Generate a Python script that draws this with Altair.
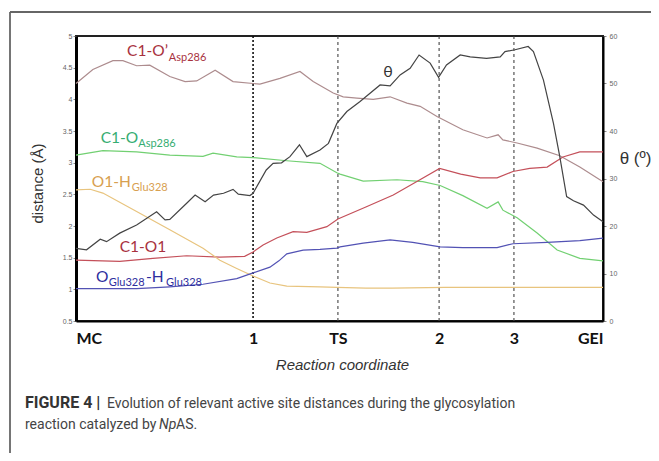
import altair as alt
import pandas as pd

# ---------------- data ----------------
marker_t = [33.6, 49.7, 68.9, 83.1]
tick_t = [0, 33.6, 49.7, 68.9, 83.1, 100]
tick_names = ["MC", "1", "TS", "2", "3", "GEI"]

c1op_t = [0, 3.2, 7.0, 8.9, 11.5, 14.0, 17.8, 20.7, 22.9, 26.4, 29.8, 33.6, 34.9, 38.7, 42.5, 45.0,
          48.8, 50.7, 53.3, 56.4, 59.6, 62.8, 65.3, 68.5, 73.4, 78.0, 80.1, 81.0, 83.7, 87.5, 91.8, 95.6, 100]
c1op_v = [4.25, 4.47, 4.61, 4.61, 4.53, 4.54, 4.36, 4.28, 4.29, 4.46, 4.28, 4.25, 4.24, 4.33, 4.44, 4.28,
          4.10, 4.04, 4.02, 4.00, 4.04, 3.94, 3.89, 3.73, 3.52, 3.39, 3.44, 3.36, 3.31, 3.23, 3.11, 2.93, 2.70]

c1o_t = [0, 5.1, 11.5, 17.8, 24.1, 26.0, 30.5, 33.6, 40.0, 46.3, 49.5, 50.1, 54.5, 60.9, 65.8, 69.1,
         73.4, 78.0, 80.1, 81.0, 83.7, 87.5, 91.3, 95.6, 100]
c1o_v = [3.12, 3.19, 3.17, 3.12, 3.10, 3.15, 3.09, 3.08, 3.03, 2.99, 2.84, 2.82, 2.71, 2.73, 2.70, 2.64,
         2.48, 2.28, 2.38, 2.25, 2.13, 1.89, 1.62, 1.49, 1.45]

c1o1_t = [0, 8.3, 14.6, 21.0, 27.3, 32.0, 33.6, 35.5, 38.1, 41.2, 43.8, 47.6, 49.7, 55.0, 60.2, 64.6,
          69.0, 73.0, 76.7, 79.9, 82.9, 86.1, 89.4, 92.4, 95.6, 100]
c1o1_v = [1.46, 1.44, 1.49, 1.53, 1.51, 1.52, 1.59, 1.70, 1.81, 1.91, 1.90, 1.99, 2.11, 2.30, 2.49, 2.70,
          2.91, 2.82, 2.76, 2.76, 2.86, 2.91, 2.93, 3.09, 3.17, 3.17]

o1h_t = [0, 2.7, 5.1, 11.5, 17.8, 24.1, 27.3, 30.5, 33.6, 36.8, 40.0, 46.3, 49.5, 55, 60, 70, 80, 90, 100]
o1h_v = [2.57, 2.58, 2.52, 2.23, 1.94, 1.65, 1.46, 1.33, 1.21, 1.10, 1.05, 1.04, 1.03, 1.02, 1.02, 1.03,
         1.03, 1.03, 1.03]

oh_t = [0, 11.5, 17.8, 24.1, 30.5, 33.6, 36.8, 38.5, 40.0, 43.1, 46.3, 49.5, 50.1, 54.5, 59.6, 63.9,
        69.1, 73.4, 79.9, 82.9, 89.4, 95.6, 100]
oh_v = [1.01, 1.01, 1.04, 1.08, 1.17, 1.26, 1.35, 1.45, 1.56, 1.62, 1.63, 1.65, 1.67, 1.73, 1.78, 1.74,
        1.67, 1.66, 1.66, 1.72, 1.74, 1.77, 1.81]

theta_t = [0, 2.0, 4.6, 5.8, 8.3, 11.5, 15.3, 16.9, 17.8, 21.0, 22.6, 24.5, 26.1, 28.0, 29.8, 30.8, 33.0,
           33.6, 36.1, 37.4, 39.0, 40.6, 42.4, 43.8, 46.3, 47.9, 49.5, 51.4, 53.9, 57.7, 59.6, 61.5, 63.4,
           65.1, 67.2, 68.8, 70.3, 72.9, 74.8, 77.9, 80.5, 81.4, 83.3, 85.8, 86.8, 88.7, 90.6, 91.8, 93.1,
           94.4, 96.3, 98.2, 100]
theta_v = [15.3, 15.0, 17.2, 16.7, 18.5, 20.2, 23.0, 21.3, 21.4, 24.8, 26.5, 25.1, 26.5, 26.9, 27.7, 26.7, 26.4,
           26.9, 31.8, 33.2, 33.3, 34.6, 37.1, 34.6, 36.0, 37.4, 41.6, 44.1, 46.2, 49.7, 49.5, 51.8, 53.2,
           56.0, 54.3, 51.3, 53.9, 56.0, 55.6, 55.3, 55.6, 56.7, 57.1, 57.8, 56.7, 50.7, 41.6, 34.6, 26.2,
           25.3, 24.4, 22.3, 20.9]

series_names = ["C1-O'Asp286", "C1-OAsp286", "C1-O1", "O1-HGlu328", "OGlu328-HGlu328"]
series_colors = ["#ad8c8e", "#72d072", "#c4505a", "#e8c47e", "#5252b4"]
series_t = [c1op_t, c1o_t, c1o1_t, o1h_t, oh_t]
series_v = [c1op_v, c1o_v, c1o1_v, o1h_v, oh_v]

# in-plot labels (main text + subscripts), in data coordinates
lab_text = ["C1-O\u2019", "Asp286", "C1-O", "Asp286", "O1-H", "Glu328", "C1-O1",
            "O", "Glu328", "-H", "Glu328", "\u03b8"]
lab_t = [9.7, 17.6, 4.7, 11.8, 3.0, 10.6, 8.3, 3.8, 6.2, 13.3, 17.1, 58.3]
lab_v = [4.68, 4.60, 3.31, 3.25, 2.62, 2.55, 1.594, 1.11, 1.055, 1.11, 1.055, 4.36]
lab_size = [15.5, 11, 15.5, 11, 15.5, 11, 15.5, 15.5, 11, 15.5, 11, 16]
lab_color = ["#a8323e", "#a8323e", "#35ad72", "#35ad72", "#d8a050", "#d8a050", "#a8323e",
             "#2e2e9e", "#2e2e9e", "#2e2e9e", "#2e2e9e", "#333333"]

caption_bold = "FIGURE 4 |"
caption_line1 = "Evolution of relevant active site distances during the glycosylation"
caption_line2a = "reaction catalyzed by"
caption_line2b = "Np"
caption_line2c = "AS."

# ---------------- tables ----------------
rows = []
for name, col, ts, vs in zip(series_names, series_colors, series_t, series_v):
    for t, v in zip(ts, vs):
        rows.append({"series": name, "color": col, "t": t, "v": v})
df_lines = pd.DataFrame(rows)
df_theta = pd.DataFrame({"t": theta_t, "theta": theta_v})
df_markers = pd.DataFrame({"t": marker_t, "name": tick_names[1:5]})
df_labels = pd.DataFrame({"t": lab_t, "v": lab_v, "text": lab_text, "size": lab_size, "color": lab_color})
dummy = pd.DataFrame({"a": [0]})

FONT_L = "Lato"
FONT_A = "Liberation Sans"
FONT_C = "Roboto"

label_expr = "[" + ",".join("'%s'" % n for n in tick_names) + "][indexof([" + \
    ",".join(str(v) for v in tick_t) + "], datum.value)]"

x_enc = alt.X(
    "t:Q",
    scale=alt.Scale(domain=[0, 100], nice=False, zero=False),
    axis=alt.Axis(
        values=tick_t, labelExpr=label_expr, labelFont=FONT_L, labelFontWeight="bold",
        labelFontSize=16, labelColor="#111111", labelPadding=9, labelFlush=True,
        ticks=False, grid=False, domainColor="#000000", domainWidth=2,
        title="Reaction coordinate", titleFont=FONT_A, titleFontStyle="italic",
        titleFontWeight="normal", titleFontSize=15, titleColor="#333333",
        titleX=266, titleY=48, titleBaseline="alphabetic", titleAlign="center",
    ),
)

y_axis = alt.Axis(
    values=[0.5, 1, 1.5, 2, 2.5, 3, 3.5, 4, 4.5, 5], labelExpr="'' + datum.value",
    labelFont=FONT_A, labelFontSize=7, labelColor="#666666", labelPadding=1,
    tickSize=3, tickColor="#888888", grid=False, domainColor="#000000", domainWidth=3,
    title="distance (\u00c5)", titleFont=FONT_A, titleFontSize=15, titleFontWeight="normal",
    titleColor="#333333", titleAngle=270, titleX=-39, titleY=147, titleAlign="center",
    titleBaseline="middle",
)
y_scale = alt.Scale(domain=[0.5, 5], nice=False, zero=False)
y_enc = alt.Y("v:Q", scale=y_scale, axis=y_axis)

lines = alt.Chart(df_lines).mark_line(strokeWidth=1.2).encode(
    x=x_enc, y=y_enc,
    color=alt.Color("color:N", scale=None),
    detail="series:N", order="t:Q",
)

rule_1 = alt.Chart(df_markers).transform_filter("datum.name == '1'").mark_rule(
    color="#111111", strokeWidth=1.6, strokeDash=[2, 2]).encode(x=x_enc)
rule_o = alt.Chart(df_markers).transform_filter("datum.name != '1'").mark_rule(
    color="#444444", strokeWidth=1.1, strokeDash=[3, 3]).encode(x=x_enc)

labels = alt.Chart(df_labels).mark_text(align="left", baseline="alphabetic", font=FONT_L).encode(
    x=x_enc, y=y_enc, text="text:N",
    size=alt.Size("size:Q", scale=None),
    color=alt.Color("color:N", scale=None),
)

def cap(txt, x, y, size=14, weight="normal", style="normal", color="#444444"):
    return alt.Chart(dummy).mark_text(
        align="left", baseline="alphabetic", font=FONT_C, fontSize=size,
        fontWeight=weight, fontStyle=style, color=color,
    ).encode(x=alt.value(x), y=alt.value(y), text=alt.value(txt))

captions = [
    cap(caption_bold, -51, 372, size=16, weight="bold", color="#333333"),
    cap(caption_line1, 31, 372),
    cap(caption_line2a, -51, 392.5),
    cap(caption_line2b, 83, 392.5, style="italic"),
    cap(caption_line2c, 100, 392.5),
]

frame_top = alt.Chart(dummy).mark_rule(color="#333333", strokeWidth=1.3).encode(
    x=alt.value(-66), x2=alt.value(600), y=alt.value(-24))
frame_left = alt.Chart(dummy).mark_rule(color="#666666", strokeWidth=1.8).encode(
    x=alt.value(-66), y=alt.value(-24), y2=alt.value(440))

dist_layer = alt.layer(rule_o, rule_1, lines, labels, *captions, frame_top, frame_left)

theta_line = alt.Chart(df_theta).mark_line(strokeWidth=1.2, color="#444444").encode(
    x=x_enc,
    y=alt.Y("theta:Q", scale=alt.Scale(domain=[0, 60], nice=False, zero=False),
            axis=alt.Axis(
                orient="right", values=[0, 10, 20, 30, 40, 50, 60],
                labelFont=FONT_A, labelFontSize=7, labelColor="#666666", labelPadding=3,
                tickSize=3, tickColor="#888888", grid=False, domainColor="#000000", domainWidth=2,
                title="\u03b8 (\u00ba)", titleFont=FONT_A, titleFontSize=17, titleFontWeight="normal",
                titleColor="#333333", titleAngle=0, titleX=32, titleY=122, titleAlign="center",
                titleBaseline="middle")),
    order="t:Q",
)

chart = alt.layer(dist_layer, theta_line).resolve_scale(y="independent").properties(
    width=527, height=285,
    padding={"left": 68, "top": 28, "right": 48, "bottom": 132},
    autosize=alt.AutoSizeParams(type="none"),
    background="white",
).configure_view(stroke="#222222", strokeWidth=2)

chart.save("out.html", embed_options={"renderer": "svg", "actions": False})
